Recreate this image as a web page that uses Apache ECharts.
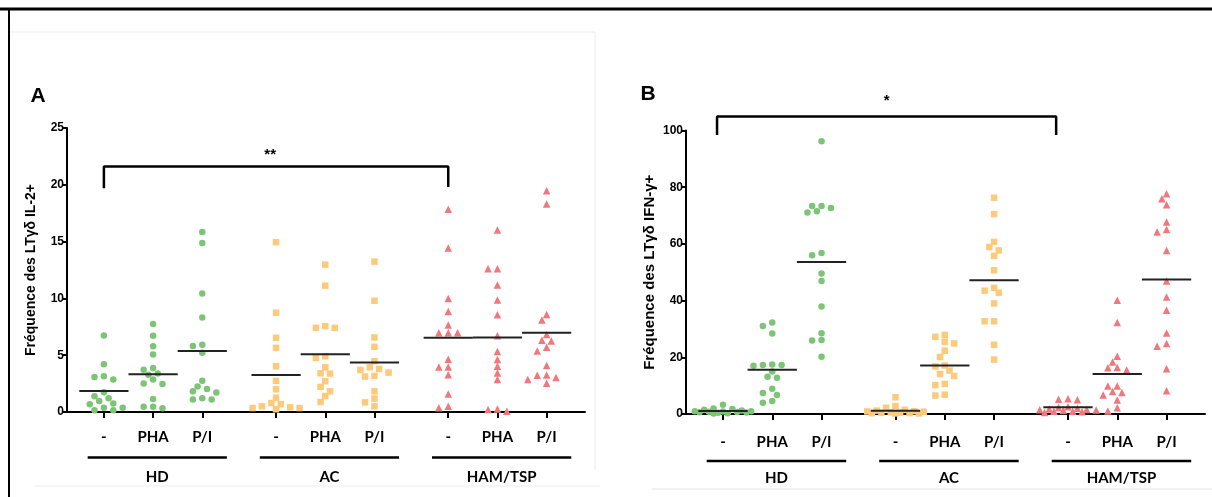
<!DOCTYPE html>
<html><head><meta charset="utf-8">
<script src="https://cdn.jsdelivr.net/npm/echarts@6/dist/echarts.min.js"></script>
<style>html,body{margin:0;padding:0;background:#fff;} #c{width:1212px;height:497px;}</style>
</head><body><div id="c"></div>
<script>
// ---------- data ----------
const conditions = ['-', 'PHA', 'P/I'];
const groups = ['HD', 'AC', 'HAM/TSP'];
const xPositions = [0.75, 1.75, 2.75, 4.25, 5.25, 6.25, 7.75, 8.75, 9.75];

// Panel A : Fréquence des LTγδ IL-2+
const il2_HD_none = [6.74, 4.21, 3.15, 2.85, 3.09, 1.74, 1.21, 1.38, 0.97, 0.74, 0.68, 0.38, 0.38, 0.15, 0.15];
const il2_HD_PHA  = [7.74, 6.71, 5.79, 5.06, 3.88, 3.29, 3.38, 3.71, 2.5, 2.47, 2.85, 1.15, 0.47, 0.32, 0.47];
const il2_HD_PI   = [15.85, 14.88, 10.44, 8.32, 5.91, 5.82, 5.21, 2.76, 1.82, 2.24, 2.03, 1.71, 1.21, 1.09, 1.09];
const il2_AC_none = [14.94, 8.74, 6.53, 5.65, 4.03, 2.74, 2.0, 1.26, 0.79, 0.68, 0.5, 0.35, 0.24, 0.35, 0.41];
const il2_AC_PHA  = [12.97, 11.12, 7.41, 7.41, 7.56, 4.76, 4.91, 3.94, 3.41, 3.38, 2.71, 2.21, 1.82, 1.41, 0.88];
const il2_AC_PI   = [13.24, 9.79, 6.56, 5.74, 4.47, 3.79, 3.47, 3.94, 3.12, 3.18, 3.71, 1.82, 1.18, 0.85, 0.5];
const il2_HAM_none = [17.85, 14.44, 10.0, 8.85, 7.65, 6.97, 6.97, 6.97, 4.65, 3.97, 3.97, 3.29, 1.59, 0.38, 0.5];
const il2_HAM_PHA  = [16.03, 12.62, 12.62, 11.18, 9.85, 8.56, 6.71, 5.32, 4.62, 4.03, 3.44, 2.85, 0.26, 0.06, 0.21];
const il2_HAM_PI   = [19.47, 18.32, 8.59, 8.09, 6.82, 6.32, 6.26, 5.71, 5.38, 4.09, 3.26, 3.03, 3.24, 2.85, 2.53];
const il2_means = [1.85, 3.32, 5.38, 3.26, 5.09, 4.35, 6.53, 6.56, 6.97];

// Panel B : Fréquence des LTγδ IFN-γ+
const ifn_HD_none = [3.3, 1.9, 1.8, 1.5, 1.2, 1.0, 1.0, 0.9, 0.8, 0.7, 0.6, 0.5, 0.4, 0.3, 0.2];
const ifn_HD_PHA  = [32.3, 31.0, 28.4, 17.5, 17.3, 17.0, 17.3, 15.0, 12.8, 13.1, 8.9, 7.4, 6.7, 4.0, 4.6];
const ifn_HD_PI   = [96.2, 73.4, 71.5, 71.1, 72.7, 73.4, 56.0, 56.8, 49.6, 46.9, 37.9, 28.5, 26.1, 25.9, 20.2];
const ifn_AC_none = [5.9, 2.8, 2.2, 1.5, 1.2, 1.0, 0.9, 0.8, 0.6, 0.5, 0.4, 0.3, 0.3, 0.2, 0.2];
const ifn_AC_PHA  = [27.9, 27.2, 25.5, 24.9, 22.3, 20.1, 16.8, 17.1, 14.1, 13.4, 15.3, 10.6, 10.2, 6.5, 6.8];
const ifn_AC_PI   = [76.3, 70.5, 58.9, 60.7, 57.7, 55.8, 50.7, 44.5, 42.8, 43.5, 39.0, 32.7, 32.7, 24.4, 19.2];
const ifn_HAM_none = [5.4, 5.2, 5.0, 2.6, 2.3, 2.0, 1.8, 1.6, 1.5, 1.4, 1.2, 1.0, 1.0, 0.8, 0.5];
const ifn_HAM_PHA  = [40.1, 32.3, 20.4, 18.3, 16.3, 15.5, 16.4, 9.9, 9.9, 7.9, 6.7, 7.6, 4.9, 2.2, 1.1];
const ifn_HAM_PI   = [77.7, 75.9, 73.8, 67.7, 64.2, 65.1, 57.7, 46.9, 41.3, 36.6, 28.6, 23.9, 24.9, 16.0, 8.2];
const ifn_means = [1.06, 15.6, 53.6, 1.17, 17.1, 47.2, 2.35, 14.1, 47.4];

const titleA = 'Fréquence des LTγδ IL-2+';
const titleB = 'Fréquence des LTγδ IFN-γ+';
const bracketA = [[0.75, 19.7], [0.75, 21.6], [7.75, 21.6], [7.75, 19.8]];
const bracketB = [[0.63, 98.4], [0.63, 104.9], [7.51, 104.9], [7.51, 98.4]];
const starA = {x: 4.13, y: 22.6, text: '**'};
const starB = {x: 4.07, y: 110.5, text: '*'};

const colors = {HD: '#7cc576', AC: '#fdca7b', HAM: '#f0777c'};
const symbols = {HD: 'circle', AC: 'rect', HAM: 'triangle'};
const symbolSizes = {HD: 6.5, AC: 6.5, HAM: 7.5};

const panelA = [[il2_HD_none, il2_HD_PHA, il2_HD_PI], [il2_AC_none, il2_AC_PHA, il2_AC_PI], [il2_HAM_none, il2_HAM_PHA, il2_HAM_PI]];
const panelB = [[ifn_HD_none, ifn_HD_PHA, ifn_HD_PI], [ifn_AC_none, ifn_AC_PHA, ifn_AC_PI], [ifn_HAM_none, ifn_HAM_PHA, ifn_HAM_PI]];
const groupKeys = ['HD', 'AC', 'HAM'];

// ---------- chart ----------
const chart = echarts.init(document.getElementById('c'), null, {renderer: 'canvas'});
const tickFont = {fontFamily: 'Liberation Sans, Arial, sans-serif', fontWeight: 'bold', fontSize: 12, color: '#000'};
const catFont = {fontFamily: 'Lato, sans-serif', fontWeight: 'bold', fontSize: 15, color: '#000'};

function xAxisCfg(gridIndex, margin) {
  return {
    type: 'value', gridIndex, min: 0, max: 10.53,
    axisLine: {show: true, lineStyle: {color: '#000', width: 2}},
    axisTick: {show: true, customValues: xPositions, length: 6, lineStyle: {color: '#000', width: 2}},
    axisLabel: {show: true, customValues: xPositions, margin, ...catFont,
      formatter: v => { const i = xPositions.findIndex(p => Math.abs(p - v) < 1e-6); return i < 0 ? '' : conditions[i % 3]; }},
    splitLine: {show: false}
  };
}
function yAxisCfg(gridIndex, max, interval, name, nameSize, nameGap) {
  return {
    type: 'value', gridIndex, min: 0, max, interval,
    axisLine: {show: true, lineStyle: {color: '#000', width: 2}},
    axisTick: {show: true, length: 4, lineStyle: {color: '#000', width: 2}},
    axisLabel: {show: true, margin: 3, ...tickFont},
    splitLine: {show: false},
    name, nameLocation: 'middle', nameGap,
    nameTextStyle: {fontFamily: 'Liberation Sans, Arial, sans-serif', fontWeight: 'bold', fontSize: nameSize, color: '#000'}
  };
}
function meanSeries(idx, means) {
  return {
    type: 'custom', xAxisIndex: idx, yAxisIndex: idx, z: 5, silent: true,
    data: xPositions.map((x, i) => [x, means[i]]),
    renderItem: (params, api) => {
      const x = api.value(0), y = api.value(1);
      const p1 = api.coord([x - 0.5, y]), p2 = api.coord([x + 0.5, y]);
      return {type: 'line', shape: {x1: p1[0], y1: p1[1], x2: p2[0], y2: p2[1]}, style: {stroke: '#222', lineWidth: 2}};
    }
  };
}
function bracketSeries(idx, data) {
  return {type: 'line', xAxisIndex: idx, yAxisIndex: idx, data, clip: false, symbol: 'none', silent: true,
    lineStyle: {color: '#000', width: 2.5}, z: 4};
}
function scatterSeries(idx, panel, g, data) {
  const k = groupKeys[g];
  return {type: 'scatter', name: groups[g], xAxisIndex: idx, yAxisIndex: idx, data,
    symbol: symbols[k], symbolSize: symbolSizes[k], itemStyle: {color: colors[k], opacity: 1}, silent: true};
}
function initialData(panel, g) {
  const out = [];
  panel[g].forEach((vals, c) => vals.forEach(v => out.push([xPositions[g * 3 + c], v])));
  return out;
}

const baseOption = {
  animation: false,
  grid: [
    {left: 67, top: 128, width: 518, height: 284},
    {left: 686, top: 130.5, width: 519, height: 283.5}
  ],
  xAxis: [xAxisCfg(0, 18), xAxisCfg(1, 21)],
  yAxis: [yAxisCfg(0, 25, 5, titleA, 14, 29), yAxisCfg(1, 100, 20, titleB, 15, 29)],
  series: [
    scatterSeries(0, panelA, 0, initialData(panelA, 0)),
    scatterSeries(0, panelA, 1, initialData(panelA, 1)),
    scatterSeries(0, panelA, 2, initialData(panelA, 2)),
    scatterSeries(1, panelB, 0, initialData(panelB, 0)),
    scatterSeries(1, panelB, 1, initialData(panelB, 1)),
    scatterSeries(1, panelB, 2, initialData(panelB, 2)),
    meanSeries(0, il2_means), meanSeries(1, ifn_means),
    bracketSeries(0, bracketA), bracketSeries(1, bracketB)
  ]
};
chart.setOption(baseOption);

// beeswarm placement (horizontal spread computed from pixel scale)
function swarm(gridIndex, xc, values) {
  const step = 4.7, minD = 6.6, maxK = 6;
  const cx = chart.convertToPixel({gridIndex}, [xc, 0])[0];
  const unit = chart.convertToPixel({gridIndex}, [xc + 1, 0])[0] - cx;
  const pts = values.map(v => ({v, py: chart.convertToPixel({gridIndex}, [xc, v])[1]}));
  const order = pts.map((p, i) => i).sort((a, b) => pts[b].v - pts[a].v);
  const placed = [];
  const res = new Array(values.length);
  for (const i of order) {
    const py = pts[i].py;
    let chosen = null, fbPx = 0, fbScore = -1;
    for (let k = 0; k <= maxK && chosen === null; k++) {
      const cands = k === 0 ? [0] : [-k, k];
      for (const c of cands) {
        const px = c * step;
        let md = Infinity;
        for (const q of placed) { const d = Math.hypot(q.px - px, q.py - py); if (d < md) md = d; }
        if (md >= minD) { chosen = px; break; }
        if (md > fbScore) { fbScore = md; fbPx = px; }
      }
    }
    const px = chosen === null ? fbPx : chosen;
    placed.push({px, py});
    res[i] = [xc + px / unit, values[i]];
  }
  return res;
}
function swarmData(gridIndex, panel, g) {
  let out = [];
  panel[g].forEach((vals, c) => { out = out.concat(swarm(gridIndex, xPositions[g * 3 + c], vals)); });
  return out;
}

const P = (gi, x, y) => chart.convertToPixel({gridIndex: gi}, [x, y]);
const graphics = [];
// frame
graphics.push({type: 'rect', shape: {x: 0, y: 7.5, width: 1212, height: 3}, style: {fill: '#000'}, silent: true});
graphics.push({type: 'rect', shape: {x: 8, y: 8, width: 2, height: 489}, style: {fill: '#000'}, silent: true});
// faint panel edges
graphics.push({type: 'line', shape: {x1: 10, y1: 32, x2: 595, y2: 32}, style: {stroke: '#ececec', lineWidth: 1}, silent: true});
graphics.push({type: 'line', shape: {x1: 595, y1: 32, x2: 595, y2: 470}, style: {stroke: '#ececec', lineWidth: 1}, silent: true});
graphics.push({type: 'line', shape: {x1: 34, y1: 486, x2: 600, y2: 486}, style: {stroke: '#ececec', lineWidth: 1}, silent: true});
graphics.push({type: 'line', shape: {x1: 652, y1: 489, x2: 1212, y2: 489}, style: {stroke: '#e4e4e4', lineWidth: 1}, silent: true});
// panel letters
graphics.push({type: 'text', x: 38, y: 96, style: {text: 'A', font: 'bold 21px "Liberation Sans", Arial, sans-serif', fill: '#000', align: 'center', verticalAlign: 'middle'}});
graphics.push({type: 'text', x: 648, y: 94, style: {text: 'B', font: 'bold 21px "Liberation Sans", Arial, sans-serif', fill: '#000', align: 'center', verticalAlign: 'middle'}});
// stars
[[0, starA], [1, starB]].forEach(([gi, s]) => {
  const p = P(gi, s.x, s.y);
  graphics.push({type: 'text', x: p[0], y: p[1], style: {text: s.text, font: 'bold 15px "Liberation Sans", Arial, sans-serif', fill: '#000', align: 'center', verticalAlign: 'middle'}});
});
// group lines and labels
[[0, 457.5, 477], [1, 461, 478]].forEach(([gi, ly, ty]) => {
  groups.forEach((g, j) => {
    const x1 = P(gi, xPositions[j * 3] - 0.33, 0)[0];
    const x2 = P(gi, xPositions[j * 3 + 2] + 0.5, 0)[0];
    graphics.push({type: 'rect', shape: {x: x1, y: ly - 1.25, width: x2 - x1, height: 2.5}, style: {fill: '#000'}, silent: true});
    graphics.push({type: 'text', x: (x1 + x2) / 2, y: ty, style: {text: g, font: 'bold 15px Lato, sans-serif', fill: '#000', align: 'center', verticalAlign: 'middle'}});
  });
});

chart.setOption({
  series: [
    {data: swarmData(0, panelA, 0)}, {data: swarmData(0, panelA, 1)}, {data: swarmData(0, panelA, 2)},
    {data: swarmData(1, panelB, 0)}, {data: swarmData(1, panelB, 1)}, {data: swarmData(1, panelB, 2)}
  ],
  graphic: graphics
});
</script>
</body></html>
